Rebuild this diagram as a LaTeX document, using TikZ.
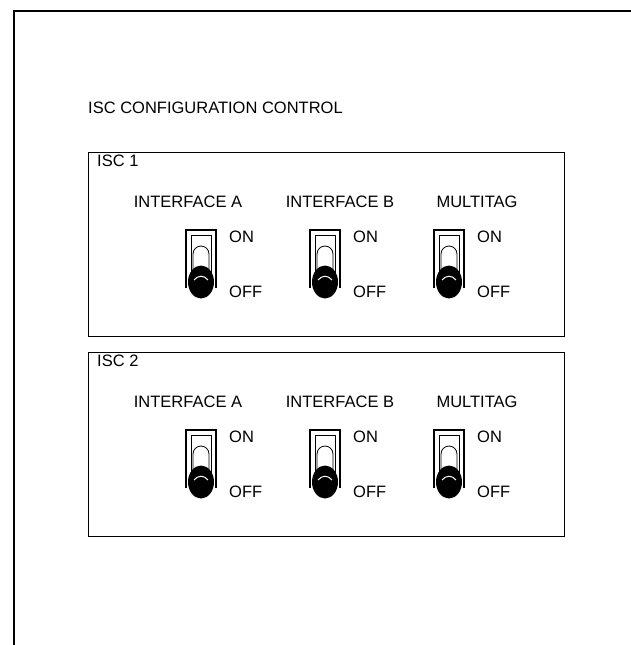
\documentclass[tikz,border=0pt]{standalone}
\usepackage{fontspec}
\setmainfont{Liberation Sans}
\usetikzlibrary{positioning}

\begin{document}
\begin{tikzpicture}[
    x=1pt, y=-1pt,
    lbl/.style={font=\fontsize{16.5}{18}\selectfont, inner sep=0pt},
    panel/.style={draw, line width=1.4pt, anchor=north west, inner sep=0pt,
                  minimum width=476pt, minimum height=184pt},
    toggle/.pic={
      \draw[line width=1.2pt] (-15,58) -- (-15,0) -- (15,0) -- (15,58);
      \draw[line width=0.8pt] (-10,58) -- (-10,5) -- (10,5) -- (10,58);
      \draw[line width=0.8pt] (-8,42) -- (-8,24)
        arc[start angle=180, end angle=360, radius=8] -- (8,42);
      \fill (0,52) ellipse[x radius=13, y radius=16.5];
      \draw[white, line width=1pt] (-7,50) .. controls (-3,45) and (3,45) .. (7,50);
    }
  ]
  \useasboundingbox (0,0) rectangle (631,645);

  % outer frame of the page
  \draw[line width=1.8pt] (14,645) -- (14,11) -- (631,11);

  \node[lbl, anchor=base west] (title) at (88,113) {ISC CONFIGURATION CONTROL};

  \foreach \p/\dy in {1/0, 2/200} {
    \node[panel] (isc\p) at (88,152+\dy) {};
    \node[lbl, below right=3pt and 9pt of isc\p.north west] (name\p) {ISC \p};

    \node[lbl, anchor=base] (ifa\p) at (188,207+\dy) {INTERFACE A};
    \node[lbl, anchor=base] (ifb\p) at (340,207+\dy) {INTERFACE B};
    \node[lbl, anchor=base] (mt\p)  at (477,207+\dy) {MULTITAG};

    \foreach \s/\cx in {a/201, b/325, m/449} {
      \pic (sw\p\s) at (\cx,230+\dy) {toggle};
      \node[lbl, anchor=base west] (on\p\s)  at (\cx+28,242+\dy) {ON};
      \node[lbl, anchor=base west] (off\p\s) at (\cx+28,297+\dy) {OFF};
    }
  }
\end{tikzpicture}
\end{document}
